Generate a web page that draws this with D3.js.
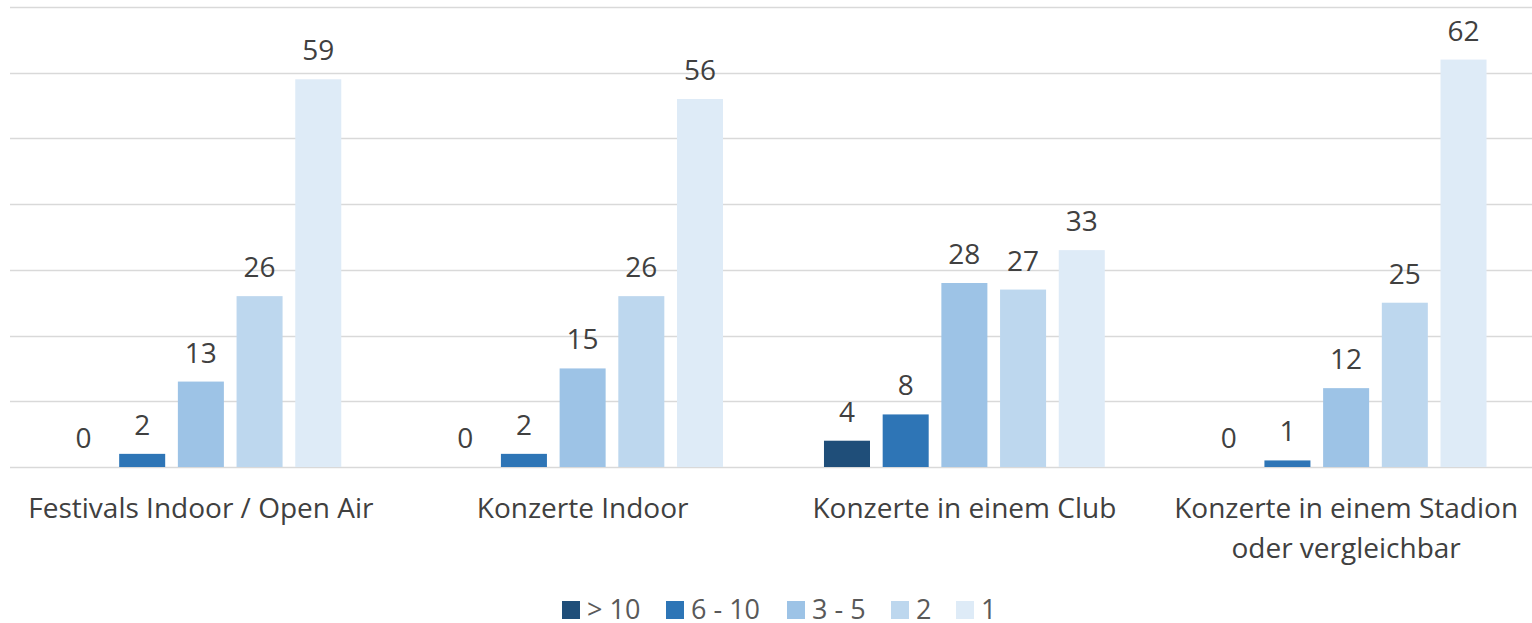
<!DOCTYPE html>
<html>
<head>
<meta charset="utf-8">
<script src="https://cdn.jsdelivr.net/npm/d3@7"></script>
<style>
  body { margin: 0; background: #fff; }
  svg { display: block; font-family: "Open Sans", sans-serif; }
</style>
</head>
<body>
<svg id="chart" width="1532" height="623"></svg>
<script>
// categories and series
var categories = [
  ["Festivals Indoor / Open Air"],
  ["Konzerte Indoor"],
  ["Konzerte in einem Club"],
  ["Konzerte in einem Stadion", "oder vergleichbar"]
];
var seriesNames = ["> 10", "6 - 10", "3 - 5", "2", "1"];
var seriesColors = ["#1f4e79", "#2e75b6", "#9dc3e6", "#bdd7ee", "#deebf7"];

// one array per series, same order as categories
var over10 = [0, 0, 4, 0];
var from6to10 = [2, 2, 8, 1];
var from3to5 = [13, 15, 28, 12];
var two = [26, 26, 27, 25];
var one = [59, 56, 33, 62];

var yTicks = [0, 10, 20, 30, 40, 50, 60, 70];

var seriesValues = [over10, from6to10, from3to5, two, one];

var svg = d3.select("#chart");

// note: "top" is a reserved window prop, use plot* names
var plotLeft = 10, plotRight = 1537, plotTop = 7, plotBottom = 467;
var gridRight = 1532;

var x0 = d3.scaleBand()
  .domain(d3.range(categories.length))
  .range([plotLeft, plotRight])
  .padding(0);

var x1 = d3.scaleBand()
  .domain(d3.range(seriesNames.length))
  .range([0, x0.bandwidth()])
  .paddingInner(0.216)
  .paddingOuter(0.86);

var y = d3.scaleLinear()
  .domain([0, 70])
  .range([plotBottom, plotTop]);

//************ gridlines ************
svg.append("g")
  .selectAll("line")
  .data(yTicks)
  .enter().append("line")
  .attr("x1", plotLeft)
  .attr("x2", gridRight)
  .attr("y1", d => Math.round(y(d)) + 0.5)
  .attr("y2", d => Math.round(y(d)) + 0.5)
  .attr("stroke", "#d9d9d9")
  .attr("stroke-width", 1.4);

//************ bars ************
var rows = [];
categories.forEach((c, ci) => {
  seriesValues.forEach((vals, si) => {
    rows.push({ ci: ci, si: si, value: vals[ci] });
  });
});

var groups = svg.append("g");

groups.selectAll("rect")
  .data(rows)
  .enter().append("rect")
  .attr("x", d => x0(d.ci) + x1(d.si))
  .attr("width", x1.bandwidth())
  .attr("y", d => y(d.value))
  .attr("height", d => y(0) - y(d.value))
  .attr("fill", d => seriesColors[d.si]);

groups.selectAll("text")
  .data(rows)
  .enter().append("text")
  .attr("x", d => x0(d.ci) + x1(d.si) + x1.bandwidth() / 2)
  .attr("y", d => y(d.value) - 19)
  .attr("text-anchor", "middle")
  .attr("fill", "#404040")
  .style("font-size", "28px")
  .text(d => d.value);

//************ category labels ************
var catLabels = svg.append("g")
  .selectAll("text")
  .data(categories)
  .enter().append("text")
  .attr("x", (d, i) => x0(i) + x0.bandwidth() / 2)
  .attr("y", 518)
  .attr("text-anchor", "middle")
  .attr("fill", "#404040")
  .style("font-size", "28px");

catLabels.selectAll("tspan")
  .data(d => d)
  .enter().append("tspan")
  .attr("x", function() { return d3.select(this.parentNode).attr("x"); })
  .attr("dy", (d, i) => i ? 40 : 0)
  .text(d => d);

//************ legend ************
var legendX = [562, 666, 787, 891, 956];
var legend = svg.append("g")
  .selectAll("g")
  .data(seriesNames)
  .enter().append("g")
  .attr("transform", (d, i) => "translate(" + legendX[i] + ",601)");

legend.append("rect")
  .attr("width", 18)
  .attr("height", 18)
  .attr("fill", (d, i) => seriesColors[i]);

legend.append("text")
  .attr("x", 25)
  .attr("y", 18)
  .attr("fill", "#595959")
  .style("font-size", "27px")
  .text(d => d);
</script>
</body>
</html>
